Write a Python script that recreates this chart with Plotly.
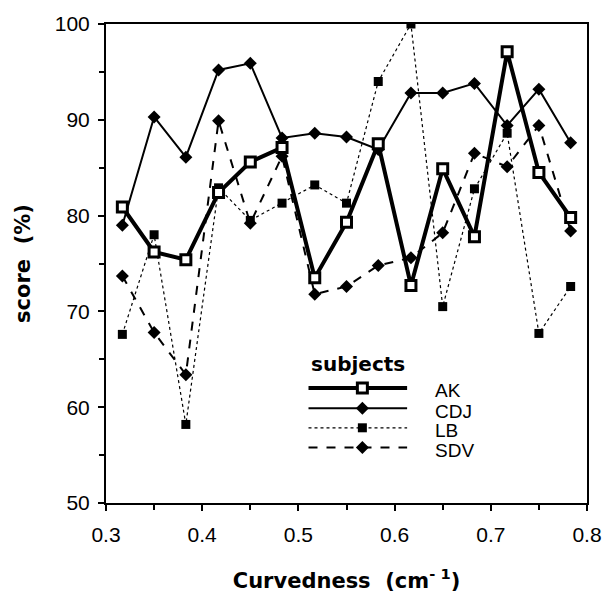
import plotly.graph_objects as go

curvedness = [0.317, 0.350, 0.383, 0.417, 0.450, 0.483, 0.517, 0.550,
              0.583, 0.617, 0.650, 0.683, 0.717, 0.750, 0.783]

ak  = [80.9, 76.2, 75.4, 82.4, 85.6, 87.1, 73.5, 79.3, 87.5, 72.7, 84.9, 77.8, 97.1, 84.5, 79.8]
cdj = [79.0, 90.3, 86.1, 95.2, 95.9, 88.1, 88.6, 88.2, 86.9, 92.8, 92.8, 93.8, 89.4, 93.2, 87.6]
lb  = [67.6, 78.0, 58.2, 82.9, 79.5, 81.3, 83.2, 81.3, 94.0, 100.0, 70.5, 82.8, 88.6, 67.7, 72.6]
sdv = [73.7, 67.8, 63.4, 89.9, 79.2, 86.2, 71.8, 72.6, 74.8, 75.6, 78.2, 86.5, 85.1, 89.4, 78.4]

subjects = ["AK", "CDJ", "LB", "SDV"]
values = [ak, cdj, lb, sdv]

styles = {
    "AK":  dict(line=dict(color="black", width=4, dash="solid"),
                marker=dict(symbol="square", size=10, color="white",
                            line=dict(color="black", width=3))),
    "CDJ": dict(line=dict(color="black", width=2, dash="solid"),
                marker=dict(symbol="diamond", size=10, color="black")),
    "LB":  dict(line=dict(color="black", width=1.2, dash="dot"),
                marker=dict(symbol="square", size=9, color="black")),
    "SDV": dict(line=dict(color="black", width=2, dash="dash"),
                marker=dict(symbol="diamond", size=10, color="black")),
}

fig = go.Figure()
draw_order = ["LB", "SDV", "CDJ", "AK"]
for name in draw_order:
    y = values[subjects.index(name)]
    fig.add_trace(go.Scatter(x=curvedness, y=y, mode="lines+markers", name=name,
                             showlegend=False, **styles[name]))

# custom legend (drawn in an overlaid 0..1 axis)
leg_x0, leg_x1, leg_xm = 0.421, 0.626, 0.533
leg_rows = [0.240, 0.198, 0.157, 0.116]
for name, ry in zip(subjects, leg_rows):
    st = styles[name]
    fig.add_trace(go.Scatter(x=[leg_x0, leg_x1], y=[ry, ry], mode="lines",
                             line=st["line"], xaxis="x2", yaxis="y2",
                             showlegend=False, hoverinfo="skip"))
    fig.add_trace(go.Scatter(x=[leg_xm], y=[ry], mode="markers",
                             marker=st["marker"], xaxis="x2", yaxis="y2",
                             showlegend=False, hoverinfo="skip"))
    fig.add_annotation(x=0.679, y=ry - 0.006, xref="paper", yref="paper", text=name,
                       showarrow=False, xanchor="left", yanchor="middle",
                       font=dict(family="Liberation Sans", size=19, color="black"))

fig.add_annotation(x=leg_x0, y=0.291, xref="paper", yref="paper", text="<b>subjects</b>",
                   showarrow=False, xanchor="left", yanchor="middle",
                   font=dict(family="DejaVu Sans", size=20, color="black"))

axis_common = dict(showline=True, linecolor="black", linewidth=2, mirror=True,
                   ticks="outside", ticklen=6, tickwidth=1.5, tickcolor="black",
                   showgrid=False, zeroline=False,
                   tickfont=dict(family="Liberation Sans", size=21, color="black"))

fig.update_layout(
    width=614, height=604,
    margin=dict(l=106, r=19, t=15, b=101),
    paper_bgcolor="white", plot_bgcolor="white",
    xaxis=dict(range=[0.3, 0.8], tickvals=[0.3, 0.4, 0.5, 0.6, 0.7, 0.8],
               ticktext=["0.3", "0.4", "0.5", "0.6", "0.7", "0.8"],
               minor=dict(dtick=0.05, ticks="outside", ticklen=5, tickcolor="black"),
               ticklabelstandoff=6,
               title=dict(text="<b>Curvedness  (cm<sup>- 1</sup>)</b>", standoff=28,
                          font=dict(family="DejaVu Sans", size=21, color="black")),
               **axis_common),
    yaxis=dict(range=[50, 100], tickvals=[50, 60, 70, 80, 90, 100],
               minor=dict(dtick=5, ticks="outside", ticklen=5, tickcolor="black"),
               ticklabelstandoff=4,
               title=dict(text="<b>score  (%)</b>", standoff=18,
                          font=dict(family="DejaVu Sans", size=21, color="black")),
               **axis_common),
    xaxis2=dict(range=[0, 1], overlaying="x", visible=False),
    yaxis2=dict(range=[0, 1], overlaying="y", visible=False),
)

fig.write_html("out.html")
